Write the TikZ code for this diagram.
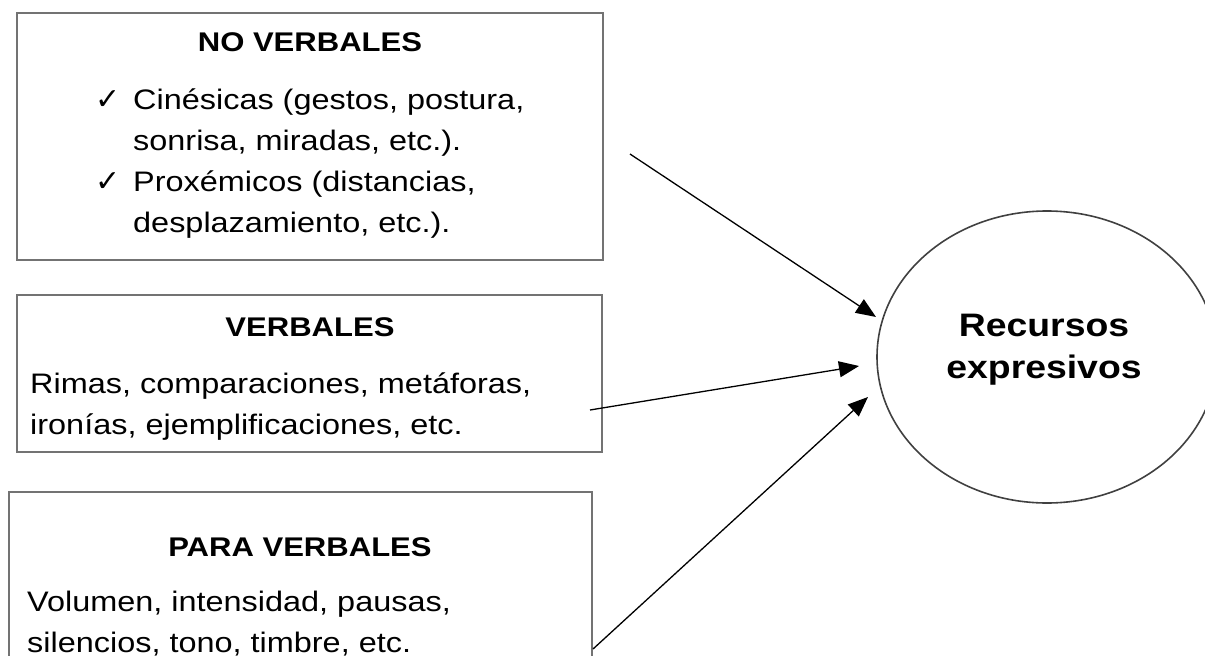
\documentclass[tikz,border=0pt]{standalone}
\usepackage{fontspec}
\setmainfont{Liberation Sans}[FakeStretch=1.15]
\newfontfamily\chkfont{DejaVu Sans}
\usetikzlibrary{arrows.meta,shapes.geometric}
\newcommand{\chk}{{\chkfont\fontsize{30}{30}\selectfont ✓}}
\newcommand{\hang}[1]{\makebox[38pt][l]{#1}}
\begin{document}
\begin{tikzpicture}[x=1pt, y=-1pt,
  box/.style = {draw=black!55, line width=2pt, rectangle, inner sep=0pt},
  title/.style = {font=\bfseries\fontsize{27}{30}\selectfont, inner sep=0pt, anchor=base},
  body/.style = {font=\fontsize{28.2}{40.7}\selectfont, align=left, inner sep=0pt, anchor=base west},
  goal/.style = {draw=black!75, line width=1.6pt, ellipse, minimum width=340pt, minimum height=292pt},
  arr/.style = {-{Triangle[length=20pt,width=16pt]}, line width=1.3pt}]
  \useasboundingbox (0,0) rectangle (1205,656);
  \clip (0,0) rectangle (1205,656);
  \node[box, minimum width=586pt, minimum height=247pt] (novb) at (310, 136.5) {};
  \node[box, minimum width=585pt, minimum height=157pt] (vb) at (309.5, 373.5) {};
  \node[box, minimum width=583pt, minimum height=216pt] (paravb) at (300.5, 600) {};
  \node[title] (novbt) at (310, 51) {NO VERBALES};
  \node[body] (novbx) at (95, 232) {\hang{\chk}Cinésicas (gestos, postura,\\
    \hang{}sonrisa, miradas, etc.).\\
    \hang{\chk}Proxémicos (distancias,\\
    \hang{}desplazamiento, etc.).};
  \node[title] (vbt) at (310, 336) {VERBALES};
  \node[body] (vbx) at (30, 434) {Rimas, comparaciones, metáforas,\\ironías, ejemplificaciones, etc.};
  \node[title] (paravbt) at (300, 556) {PARA VERBALES};
  \node[body] (paravbx) at (27, 652) {Volumen, intensidad, pausas,\\silencios, tono, timbre, etc.};
  \node[goal] (rec) at (1047, 357) {};
  \node[font=\bfseries\fontsize{32.5}{42}\selectfont, align=center, inner sep=0pt, anchor=base] (rect) at (1044, 378) {Recursos\\expresivos};
  \coordinate (s1) at (630, 154);
  \coordinate (e1) at (876, 317);
  \coordinate (s2) at (590, 410);
  \coordinate (e2) at (859, 366);
  \coordinate (s3) at (593, 649);
  \coordinate (e3) at (868, 397);
  \draw[arr] (s1) to (e1);
  \draw[arr] (s2) to (e2);
  \draw[arr] (s3) to (e3);
\end{tikzpicture}
\end{document}
